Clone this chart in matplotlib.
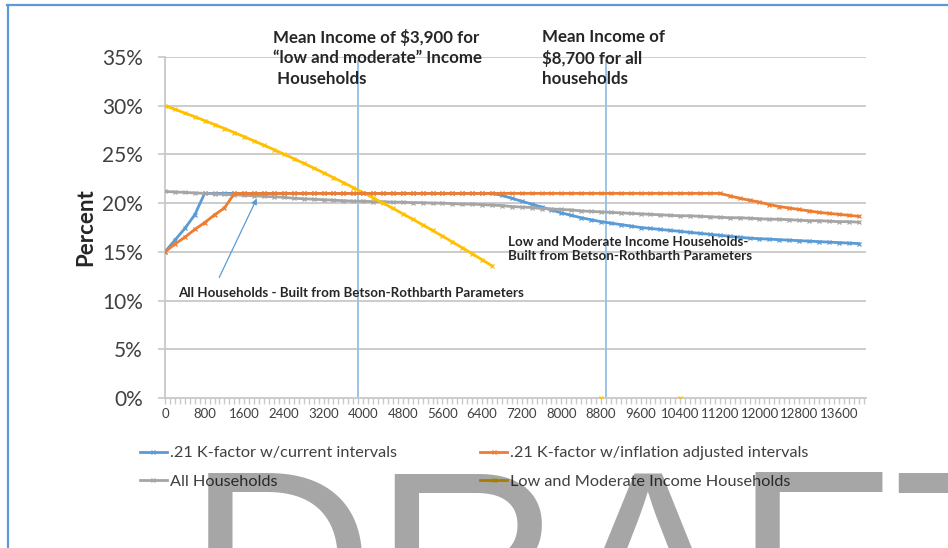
import numpy as np
import matplotlib
matplotlib.use('Agg')
import matplotlib.pyplot as plt
from matplotlib.lines import Line2D
from matplotlib.patches import FancyArrowPatch
from matplotlib.ticker import MultipleLocator, FuncFormatter

plt.rcParams['font.family'] = ['Lato', 'DejaVu Sans']

# income categories (Excel category axis, every $200)
income = list(range(0, 14001, 200))

# percent of income
current_k = [
    15.0, 16.2, 17.4, 18.8, 21.0, 21.0, 21.0, 21.0, 21.0, 21.0,
    21.0, 21.0, 21.0, 21.0, 21.0, 21.0, 21.0, 21.0, 21.0, 21.0,
    21.0, 21.0, 21.0, 21.0, 21.0, 21.0, 21.0, 21.0, 21.0, 21.0,
    21.0, 21.0, 21.0, 21.0, 20.8, 20.5, 20.2, 19.9, 19.6, 19.3,
    19.0, 18.75, 18.5, 18.3, 18.1, 17.95, 17.8, 17.65, 17.5, 17.4,
    17.3, 17.2, 17.1, 17.0, 16.9, 16.8, 16.7, 16.6, 16.5, 16.4,
    16.35, 16.3, 16.25, 16.2, 16.15, 16.1, 16.05, 16.0, 15.95, 15.9,
    15.85,
]
inflation_k = [
    15.0, 15.8, 16.5, 17.3, 18.0, 18.8, 19.5, 21.0, 21.0, 21.0,
    21.0, 21.0, 21.0, 21.0, 21.0, 21.0, 21.0, 21.0, 21.0, 21.0,
    21.0, 21.0, 21.0, 21.0, 21.0, 21.0, 21.0, 21.0, 21.0, 21.0,
    21.0, 21.0, 21.0, 21.0, 21.0, 21.0, 21.0, 21.0, 21.0, 21.0,
    21.0, 21.0, 21.0, 21.0, 21.0, 21.0, 21.0, 21.0, 21.0, 21.0,
    21.0, 21.0, 21.0, 21.0, 21.0, 21.0, 21.0, 20.75, 20.5, 20.3,
    20.1, 19.85, 19.65, 19.5, 19.35, 19.2, 19.05, 18.95, 18.85, 18.75,
    18.65,
]
all_hh = [
    21.2, 21.15, 21.1, 21.05, 21.0, 20.95, 20.9, 20.85, 20.8, 20.75,
    20.7, 20.65, 20.6, 20.5, 20.45, 20.4, 20.35, 20.3, 20.25, 20.2,
    20.2, 20.15, 20.15, 20.1, 20.1, 20.05, 20.05, 20.0, 20.0, 19.95,
    19.9, 19.9, 19.85, 19.8, 19.75, 19.65, 19.6, 19.55, 19.45, 19.4,
    19.35, 19.3, 19.2, 19.15, 19.1, 19.05, 19.0, 18.95, 18.9, 18.85,
    18.8, 18.75, 18.7, 18.7, 18.65, 18.6, 18.55, 18.5, 18.5, 18.45,
    18.4, 18.35, 18.35, 18.3, 18.25, 18.2, 18.2, 18.15, 18.1, 18.1,
    18.05,
]
nan = np.nan
low_mod_hh = [
    30.0, 29.63, 29.25, 28.87, 28.47, 28.07, 27.66, 27.24, 26.82, 26.38,
    25.94, 25.49, 25.03, 24.57, 24.09, 23.61, 23.12, 22.62, 22.11, 21.6,
    21.08, 20.55, 20.01, 19.47, 18.91, 18.35, 17.78, 17.2, 16.62, 16.02,
    15.42, 14.81, 14.19, 13.57, nan, nan, nan, nan, nan, nan,
    nan, nan, nan, nan, 0.0, nan, nan, nan, nan, nan,
    nan, nan, 0.0, nan, nan, nan, nan, nan, nan, nan,
    nan, nan, nan, nan, nan, nan, nan, nan, nan, nan,
    nan,
]

series_names = ['.21 K-factor w/current intervals',
                '.21 K-factor w/inflation adjusted intervals',
                'All Households',
                'Low and Moderate Income Households']
series_colors = ['#5B9BD5', '#ED7D31', '#A5A5A5', '#FFC000']

mean_incomes = [3900, 8900]
x_labels = list(range(0, 13601, 800))

W, H = 948, 548
fig = plt.figure(figsize=(W / 100, H / 100), dpi=100)
ax = fig.add_axes([165 / W, 1 - 398 / H, (866 - 165) / W, (398 - 57) / H])

grid_c = '#C8C8C8'
for yv in range(5, 36, 5):
    ax.axhline(yv, color=grid_c, lw=1.3, zorder=1)

lines = []
for vals, name, col in zip([current_k, inflation_k, all_hh, low_mod_hh],
                           series_names, series_colors):
    ln, = ax.plot(income, vals, color=col, lw=2.0, marker='x', ms=3,
                  mew=0.9, label=name, zorder=3)
    lines.append(ln)
lines[1].set_zorder(3.5)

for xv in mean_incomes:
    ax.plot([xv, xv], [0, 34.6], color='#9DC3E6', lw=1.4, zorder=2)

ax.set_xlim(0, 14150)
ax.set_ylim(0, 35)
for s in ['top', 'right']:
    ax.spines[s].set_visible(False)
for s in ['left', 'bottom']:
    ax.spines[s].set_color(grid_c)
    ax.spines[s].set_linewidth(1.3)

ax.set_yticks(range(0, 36, 5))
ax.yaxis.set_major_formatter(FuncFormatter(lambda v, p: f'{v:.0f}%'))
ax.tick_params(axis='y', length=5, width=1.2, color=grid_c, pad=11,
               labelsize=15, labelcolor='#404040')
ax.set_xticks(x_labels)
ax.xaxis.set_minor_locator(MultipleLocator(100))
ax.tick_params(axis='x', which='both', length=4, width=1.0, color=grid_c,
               pad=3, labelsize=9.5, labelcolor='#404040')
ax.set_ylabel('Percent', fontsize=16, fontweight='bold', color='#262626',
              labelpad=4)

# annotations
fig.text(273 / W, 1 - 29 / H,
         'Mean Income of $3,900 for\n\u201clow and moderate\u201d Income\n Households',
         fontsize=12.2, fontweight='bold', color='#262626', va='top',
         ha='left', linespacing=1.33)
fig.text(542 / W, 1 - 29 / H,
         'Mean Income of\n$8,700 for all\nhouseholds',
         fontsize=12.2, fontweight='bold', color='#262626', va='top',
         ha='left', linespacing=1.33)
fig.text(508 / W, 1 - 236 / H,
         'Low and Moderate Income Households-\nBuilt from Betson-Rothbarth Parameters',
         fontsize=9.6, fontweight='bold', color='#262626', va='top',
         ha='left', linespacing=1.2)
fig.text(178 / W, 1 - 293 / H,
         'All Households - Built from Betson-Rothbarth Parameters',
         fontsize=9.6, fontweight='bold', color='#262626', va='center',
         ha='left')
fig.add_artist(FancyArrowPatch(
    (218 / W, 1 - 280 / H), (258 / W, 1 - 196 / H),
    transform=fig.transFigure, arrowstyle='-|>', mutation_scale=8,
    color='#5B9BD5', lw=0.9))

# legend: two rows, two columns
order = [0, 2, 1, 3]
ax.legend([lines[i] for i in order], [series_names[i] for i in order],
          ncol=2, loc='upper left', bbox_to_anchor=(140 / W, 1 - 446 / H),
          bbox_transform=fig.transFigure, frameon=False, fontsize=11.7,
          handlelength=1.66, handletextpad=0.2, columnspacing=5.1,
          labelspacing=0.85, borderpad=0, borderaxespad=0,
          labelcolor='#404040')

# chart border (blue, only left/top visible)
fig.add_artist(Line2D([8 / W, 8 / W], [0, 1 - 5 / H], color='#5B9BD5',
                      lw=1.6, transform=fig.transFigure))
fig.add_artist(Line2D([7 / W, 1], [1 - 5 / H, 1 - 5 / H], color='#5B9BD5',
                      lw=1.6, transform=fig.transFigure))

# DRAFT watermark
fig.text(187 / W, 1 - 652 / H, 'DRAFT', fontsize=187, color='black',
         alpha=0.35, family='Liberation Sans', ha='left', va='baseline',
         zorder=10)

fig.savefig('out.png', dpi=100)
